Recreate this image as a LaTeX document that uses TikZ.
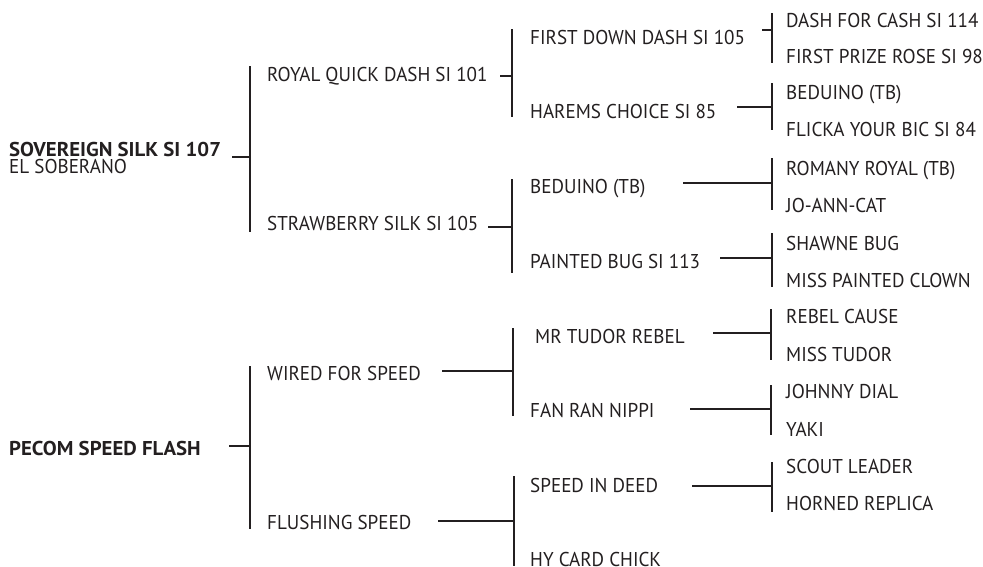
\documentclass[tikz,border=0pt]{standalone}
\usepackage{fontspec}
\setmainfont{PT Sans}[FakeStretch=0.955, BoldFeatures={FakeStretch=1.04}]
\definecolor{ink}{HTML}{231F20}
\tikzset{
  horse/.style={anchor=base west, inner sep=0pt, text=ink, font=\fontsize{20}{24}\selectfont},
  bhorse/.style={horse, font=\fontsize{20}{24}\selectfont\bfseries},
  link/.style={draw=ink, line width=1.2pt, line cap=butt}
}
\begin{document}
\begin{tikzpicture}[x=1pt,y=-1pt]
\useasboundingbox (0,0) rectangle (983,566);
% generation 1
\node[bhorse] (s1) at (9,156) {SOVEREIGN SILK SI 107};
\node[horse] (s1b) at (9,173) {EL SOBERANO};
\node[bhorse] (d1) at (9,455) {PECOM SPEED FLASH};
% generation 2
\node[horse] (s2) at (267,81.5) {ROYAL QUICK DASH SI 101};
\node[horse] (s3) at (267,230) {STRAWBERRY SILK SI 105};
\node[horse] (d2) at (267,380) {WIRED FOR SPEED};
\node[horse] (d3) at (267,529) {FLUSHING SPEED};
% generation 3
\node[horse] (s4) at (530,44) {FIRST DOWN DASH SI 105};
\node[horse] (s5) at (530,118) {HAREMS CHOICE SI 85};
\node[horse] (s6) at (530,193) {BEDUINO (TB)};
\node[horse] (s7) at (530,268) {PAINTED BUG SI 113};
\node[horse] (d4) at (535,343) {MR TUDOR REBEL};
\node[horse] (d5) at (530,417) {FAN RAN NIPPI};
\node[horse] (d6) at (530,492) {SPEED IN DEED};
\node[horse] (d7) at (530,566) {HY CARD CHICK};
% generation 4
\node[horse] (s8) at (786,27) {DASH FOR CASH SI 114};
\node[horse] (s9) at (786,63) {FIRST PRIZE ROSE SI 98};
\node[horse] (s10) at (786,99) {BEDUINO (TB)};
\node[horse] (s11) at (786,136) {FLICKA YOUR BIC SI 84};
\node[horse] (s12) at (786,175) {ROMANY ROYAL (TB)};
\node[horse] (s13) at (786,212) {JO-ANN-CAT};
\node[horse] (s14) at (786,250) {SHAWNE BUG};
\node[horse] (s15) at (786,287) {MISS PAINTED CLOWN};
\node[horse] (d8) at (786,323) {REBEL CAUSE};
\node[horse] (d9) at (786,361) {MISS TUDOR};
\node[horse] (d10) at (786,398) {JOHNNY DIAL};
\node[horse] (d11) at (786,436) {YAKI};
\node[horse] (d12) at (786,473) {SCOUT LEADER};
\node[horse] (d13) at (786,510) {HORNED REPLICA};
% junction coordinates
\coordinate (s1o) at (232,157); \coordinate (s1j) at (250,157);
\coordinate (s1t) at (250,66);  \coordinate (s1u) at (250,232);
\coordinate (d1o) at (229,446); \coordinate (d1j) at (250,446);
\coordinate (d1t) at (250,366); \coordinate (d1u) at (250,529);
\coordinate (s2o) at (500,76);  \coordinate (s2j) at (512,76);
\coordinate (s2t) at (512,29);  \coordinate (s2u) at (512,117);
\coordinate (s3o) at (488,227); \coordinate (s3j) at (512,227);
\coordinate (s3t) at (512,179); \coordinate (s3u) at (512,273);
\coordinate (d2o) at (442,371); \coordinate (d2j) at (513,371);
\coordinate (d2t) at (513,328); \coordinate (d2u) at (513,416);
\coordinate (d3o) at (438,521); \coordinate (d3j) at (514,521);
\coordinate (d3t) at (514,476); \coordinate (d3u) at (514,566);
\coordinate (s4o) at (762,30);  \coordinate (s4j) at (772,30);
\coordinate (s4t) at (772,13);  \coordinate (s4u) at (772,63);
\coordinate (s5o) at (737,107); \coordinate (s5j) at (772,107);
\coordinate (s5t) at (772,83);  \coordinate (s5u) at (772,130);
\coordinate (s6o) at (683,183); \coordinate (s6j) at (772,183);
\coordinate (s6t) at (772,158); \coordinate (s6u) at (772,210);
\coordinate (s7o) at (720,258); \coordinate (s7j) at (772,258);
\coordinate (s7t) at (772,233); \coordinate (s7u) at (772,287);
\coordinate (d4o) at (713,333); \coordinate (d4j) at (771,333);
\coordinate (d4t) at (771,309); \coordinate (d4u) at (771,360);
\coordinate (d5o) at (690,409); \coordinate (d5j) at (771,409);
\coordinate (d5t) at (771,385); \coordinate (d5u) at (771,435);
\coordinate (d6o) at (692,486); \coordinate (d6j) at (772,486);
\coordinate (d6t) at (772,462); \coordinate (d6u) at (772,512);
% connectors
\foreach \n in {s1,d1,s2,s3,d2,d3,s4,s5,s6,s7,d4,d5,d6}{
  \draw[link] (\n o) -- (\n j);
  \draw[link] (\n t) -- (\n u);
}
\end{tikzpicture}
\end{document}
